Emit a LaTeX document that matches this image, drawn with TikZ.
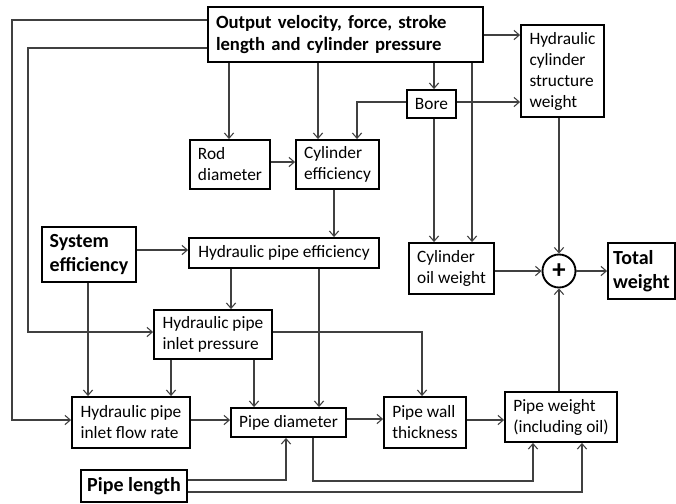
\documentclass[tikz,border=0pt]{standalone}
\usepackage{fontspec}
\setmainfont{Carlito}
\usetikzlibrary{arrows.meta}
\tikzset{
  px/.style={x=0.75pt,y=-0.75pt},
  box/.style={draw=black,line width=1.4pt,inner sep=0pt,align=left,font=\fontsize{13}{15.75}\selectfont},
  bbox/.style={box,font=\fontsize{15}{18}\selectfont\bfseries},
  obox/.style={box,font=\fontsize{14}{16.5}\selectfont\bfseries,text width=194.25pt,inner xsep=6pt},
  conn/.style={draw=black!75,line width=0.8pt},
  arr/.style={conn,-{Straight Barb[length=4pt,width=7pt]}}
}
\newcommand{\bx}[7]{% name, x1,y1,x2,y2, style, text
  \node[#6,minimum width={(#4-#2)*0.75pt},minimum height={(#5-#3)*0.75pt}] (#1) at ({(#2+#4)/2},{(#3+#5)/2}) {#7};}
\begin{document}
\begin{tikzpicture}[px]
\useasboundingbox (0,0) rectangle (676,504);
\bx{out}{208}{7}{483}{62}{obox}{Output velocity, force, stroke\\length and cylinder pressure}
\bx{hcsw}{521}{25}{604}{117}{box}{Hydraulic\\cylinder\\structure\\weight}
\bx{bore}{407}{90}{456}{118}{box}{Bore}
\bx{rod}{190}{140}{270}{189}{box}{Rod\\diameter}
\bx{ceff}{296}{140}{379}{189}{box}{Cylinder\\efficiency}
\bx{seff}{42}{227}{136}{282}{bbox}{System\\efficiency}
\bx{hpe}{189}{238}{379}{268}{box}{Hydraulic pipe efficiency}
\bx{cow}{409}{243}{494}{294}{box}{Cylinder\\oil weight}
\bx{tw}{608}{243}{675}{299}{bbox}{Total\\weight}
\bx{hpip}{154}{310}{272}{359}{box}{Hydraulic pipe\\inlet pressure}
\bx{fr}{72}{397}{190}{448}{box}{Hydraulic pipe\\inlet flow rate}
\bx{pd}{231}{408}{346}{437}{box}{Pipe diameter}
\bx{pwt}{384}{397}{466}{448}{box}{Pipe wall\\thickness}
\bx{pw}{505}{392}{617}{442}{box}{Pipe weight\\(including oil)}
\bx{pl}{81}{470}{187}{502}{bbox}{Pipe length}
\node[draw=black,line width=1.4pt,circle,minimum size=33*0.75pt,inner sep=0pt,font=\fontsize{20}{20}\selectfont\bfseries] (plus) at (559,271) {+};
% connectors
\draw[arr] (out.west |- 0,20) -- (12,20) -- (12,420) -- (fr.west |- 0,420);
\draw[arr] (out.west |- 0,48) -- (28,48) -- (28,332) -- (hpip.west |- 0,332);
\draw[arr] (out.south -| 229,0) -- (rod.north -| 229,0);
\draw[arr] (out.south -| 318,0) -- (ceff.north -| 318,0);
\draw[arr] (out.south -| 434,0) -- (bore.north -| 434,0);
\draw[arr] (out.south -| 472,0) -- (cow.north -| 472,0);
\draw[arr] (out.east |- 0,35) -- (hcsw.west |- 0,35);
\draw[arr] (bore.east |- 0,102) -- (hcsw.west |- 0,102);
\draw[arr] (bore.west |- 0,102) -- (357,102) -- (ceff.north -| 357,0);
\draw[arr] (bore.south -| 434,0) -- (cow.north -| 434,0);
\draw[arr] (rod.east |- 0,162) -- (ceff.west |- 0,162);
\draw[arr] (ceff.south -| 334,0) -- (hpe.north -| 334,0);
\draw[arr] (seff.east |- 0,250) -- (hpe.west |- 0,250);
\draw[arr] (hpe.south -| 231,0) -- (hpip.north -| 231,0);
\draw[arr] (hpe.south -| 319,0) -- (pd.north -| 319,0);
\draw[arr] (hpip.east |- 0,332) -- (422,332) -- (pwt.north -| 422,0);
\draw[arr] (hpip.south -| 171,0) -- (fr.north -| 171,0);
\draw[arr] (hpip.south -| 254,0) -- (pd.north -| 254,0);
\draw[arr] (seff.south -| 88,0) -- (fr.north -| 88,0);
\draw[arr] (fr.east |- 0,420) -- (pd.west |- 0,420);
\draw[arr] (pd.east |- 0,419) -- (pwt.west |- 0,419);
\draw[arr] (pwt.east |- 0,420) -- (pw.west |- 0,420);
\draw[arr] (pw.north -| plus.south) -- (plus.south);
\draw[arr] (hcsw.south -| plus.north) -- (plus.north);
\draw[arr] (cow.east |- plus.west) -- (plus.west);
\draw[arr] (plus.east) -- (tw.west |- plus.east);
\draw[arr] (pl.east |- 0,480) -- (286,480) -- (pd.south -| 286,0);
\draw[arr] (pl.east |- 0,492) -- (582,492) -- (pw.south -| 582,0);
\draw[arr] (pd.south -| 313,0) -- (313,481) -- (533,481) -- (pw.south -| 533,0);
\end{tikzpicture}
\end{document}
